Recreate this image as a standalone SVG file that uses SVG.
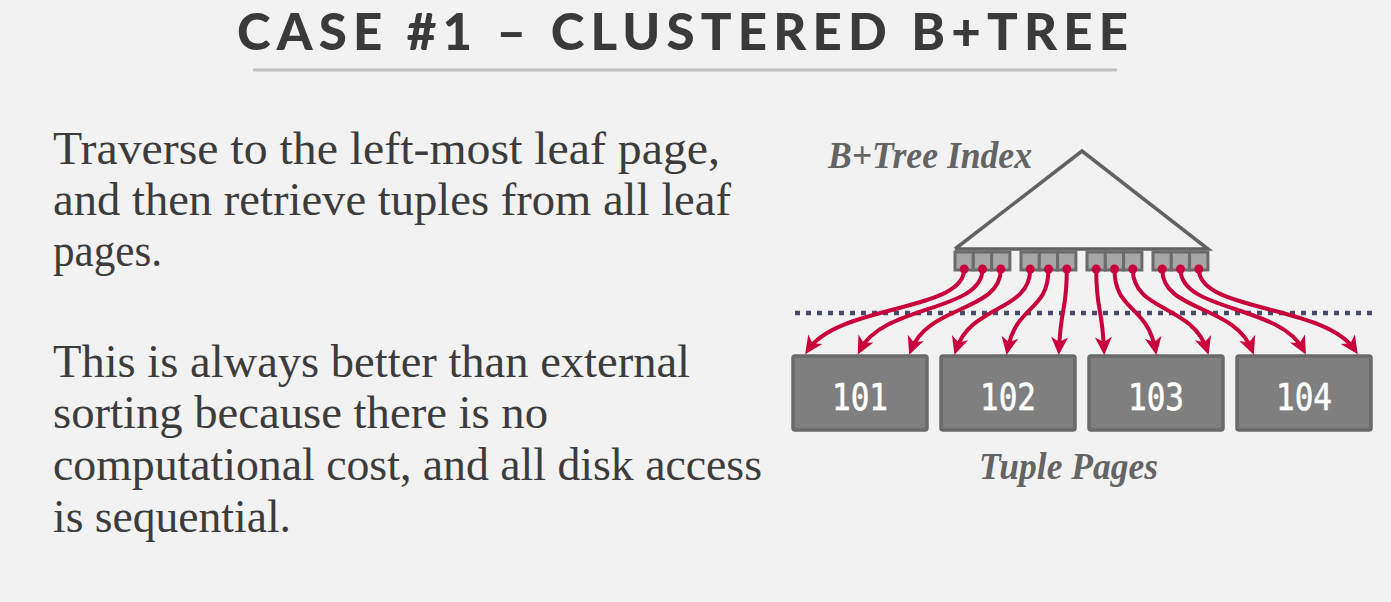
<svg xmlns="http://www.w3.org/2000/svg" width="1391" height="602" viewBox="0 0 1391 602">
<style>
.title{font-family:Lato,"Liberation Sans",sans-serif;font-weight:900;font-size:51px;fill:#3a3a3a}
.body{font-family:"Liberation Serif",serif;font-size:46px;fill:#3c3c3c}
.lbl{font-family:"Liberation Serif",serif;font-style:italic;font-weight:bold;font-size:37px;fill:#646464}
.cell{fill:#a6a6a6;stroke:#6b6b6b;stroke-width:3}
.page{fill:#7f7f7f;stroke:#6a6a6a;stroke-width:3.5}
.num{font-family:"DejaVu Sans Mono",monospace;font-size:37px;fill:#ffffff;stroke:#ffffff;stroke-width:0.6;text-anchor:middle}
.cn path{fill:none;stroke:#c8003c;stroke-width:4;marker-end:url(#ah)}
.dot{fill:#c8003c}
</style>
<defs>
<marker id="ah" markerUnits="userSpaceOnUse" markerWidth="24" markerHeight="24" viewBox="-20 -10 24 20" refX="-5" refY="0" orient="auto">
<path d="M0,0 L-18,-8.5 L-13,0 L-18,8.5 Z" fill="#c8003c"/>
</marker>
</defs>
<rect width="1391" height="602" fill="#f2f2f2"/>
<g id="title">
<text class="title" x="237" y="50" textLength="891" lengthAdjust="spacing">CASE #1 – CLUSTERED B+TREE</text>
<line x1="253" y1="70" x2="1117" y2="70" stroke="#bfbfbf" stroke-width="3"/>
</g>
<g id="text1">
<text class="body" x="53" y="164" textLength="667" lengthAdjust="spacingAndGlyphs">Traverse to the left-most leaf page,</text>
<text class="body" x="53" y="215" textLength="678" lengthAdjust="spacingAndGlyphs">and then retrieve tuples from all leaf</text>
<text class="body" x="53" y="266" textLength="109" lengthAdjust="spacingAndGlyphs">pages.</text>
</g>
<g id="text2">
<text class="body" x="53" y="377" textLength="637" lengthAdjust="spacingAndGlyphs">This is always better than external</text>
<text class="body" x="53" y="428" textLength="495" lengthAdjust="spacingAndGlyphs">sorting because there is no</text>
<text class="body" x="53" y="480" textLength="709" lengthAdjust="spacingAndGlyphs">computational cost, and all disk access</text>
<text class="body" x="53" y="532" textLength="238" lengthAdjust="spacingAndGlyphs">is sequential.</text>
</g>
<g id="index">
<text class="lbl" x="828" y="168" textLength="204" lengthAdjust="spacingAndGlyphs">B+Tree Index</text>
<polyline points="955,249 1082,151 1208,249 955,249" fill="none" stroke="#626262" stroke-width="3.5" stroke-linejoin="miter"/>
</g>
<g id="leaves">
<rect class="cell" x="955" y="252" width="18.3" height="18"/><rect class="cell" x="973.3" y="252" width="18.3" height="18"/><rect class="cell" x="991.6" y="252" width="18.3" height="18"/>
<rect class="cell" x="1021" y="252" width="18.3" height="18"/><rect class="cell" x="1039.3" y="252" width="18.3" height="18"/><rect class="cell" x="1057.6" y="252" width="18.3" height="18"/>
<rect class="cell" x="1087" y="252" width="18.3" height="18"/><rect class="cell" x="1105.3" y="252" width="18.3" height="18"/><rect class="cell" x="1123.6" y="252" width="18.3" height="18"/>
<rect class="cell" x="1153" y="252" width="18.3" height="18"/><rect class="cell" x="1171.3" y="252" width="18.3" height="18"/><rect class="cell" x="1189.6" y="252" width="18.3" height="18"/>
</g>
<line id="divider" x1="795" y1="313" x2="1372" y2="313" stroke="#474a68" stroke-width="4.5" stroke-dasharray="5 6"/>
<g id="pages">
<g id="p101"><rect class="page" x="793" y="356" width="134" height="74" rx="2"/><text class="num" x="860" y="410" textLength="56" lengthAdjust="spacingAndGlyphs">101</text></g>
<g id="p102"><rect class="page" x="941" y="356" width="134" height="74" rx="2"/><text class="num" x="1008" y="410" textLength="56" lengthAdjust="spacingAndGlyphs">102</text></g>
<g id="p103"><rect class="page" x="1089" y="356" width="134" height="74" rx="2"/><text class="num" x="1156" y="410" textLength="56" lengthAdjust="spacingAndGlyphs">103</text></g>
<g id="p104"><rect class="page" x="1237" y="356" width="134" height="74" rx="2"/><text class="num" x="1304" y="410" textLength="56" lengthAdjust="spacingAndGlyphs">104</text></g>
<text class="lbl" x="979" y="479" textLength="179" lengthAdjust="spacingAndGlyphs">Tuple Pages</text>
</g>
<g id="connectors" class="cn">
<path d="M964.2,269 C964.2,312 839,304 808,350"/>
<path d="M982.5,269 C982.5,312 884,304 860,350"/>
<path d="M1000.8,269 C1000.8,312 929,304 911,350"/>
<path d="M1030.2,269 C1030.2,312 971,304 956,350"/>
<path d="M1048.5,269 C1048.5,312 1016,304 1007.5,350"/>
<path d="M1066.8,269 C1066.8,312 1061,304 1059,350"/>
<path d="M1096.2,269 C1096.2,312 1102,304 1104,350"/>
<path d="M1114.5,269 C1114.5,312 1147,304 1155.5,350"/>
<path d="M1132.8,269 C1132.8,312 1192,304 1207,350"/>
<path d="M1162.2,269 C1162.2,312 1234,304 1252,350"/>
<path d="M1180.5,269 C1180.5,312 1279,304 1303.5,350"/>
<path d="M1198.8,269 C1198.8,312 1324,304 1355,350"/>
</g>
<g id="dots">
<circle class="dot" cx="964.2" cy="269" r="4.5"/><circle class="dot" cx="982.5" cy="269" r="4.5"/><circle class="dot" cx="1000.8" cy="269" r="4.5"/>
<circle class="dot" cx="1030.2" cy="269" r="4.5"/><circle class="dot" cx="1048.5" cy="269" r="4.5"/><circle class="dot" cx="1066.8" cy="269" r="4.5"/>
<circle class="dot" cx="1096.2" cy="269" r="4.5"/><circle class="dot" cx="1114.5" cy="269" r="4.5"/><circle class="dot" cx="1132.8" cy="269" r="4.5"/>
<circle class="dot" cx="1162.2" cy="269" r="4.5"/><circle class="dot" cx="1180.5" cy="269" r="4.5"/><circle class="dot" cx="1198.8" cy="269" r="4.5"/>
</g>
</svg>
